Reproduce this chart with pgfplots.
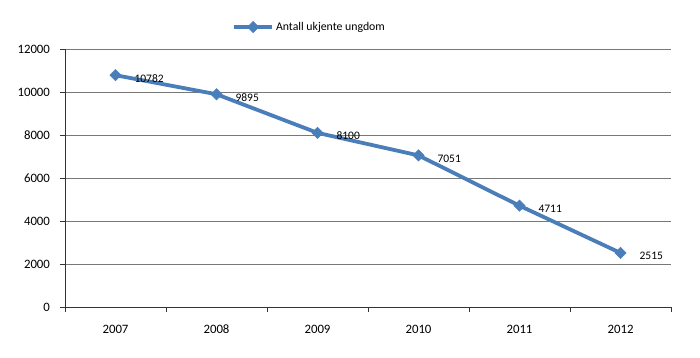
\documentclass[border=0pt]{standalone}
\usepackage{pgfplots}
\pgfplotsset{compat=1.18}
\usepackage{fontspec}
\setmainfont{Carlito}
\definecolor{lineblue}{RGB}{74,126,187}
\definecolor{gridgray}{RGB}{120,120,120}
\begin{document}
\fontsize{11.5pt}{13pt}\selectfont
\begin{tikzpicture}
\useasboundingbox (-65pt,-50pt) rectangle (635pt,307pt);
\begin{axis}[
  at={(0,0)}, anchor=south west,
  scale only axis, width=606pt, height=258pt,
  xmin=-0.5, xmax=5.5, ymin=0, ymax=12000,
  xtick={0,...,5},
  xticklabels={2007,2008,2009,2010,2011,2012},
  minor xtick={-0.5,0.5,...,5.5},
  ytick={0,2000,...,12000},
  axis x line*=bottom, axis y line*=left,
  axis line style={draw=black!80, line width=0.8pt},
  x tick style={draw=none},
  minor x tick style={draw=black!80, line width=0.8pt},
  minor tick length=5pt,
  y tick style={draw=black!80, line width=0.8pt},
  major tick length=5pt,
  tick align=outside,
  ymajorgrids, grid style={draw=gridgray, line width=0.8pt},
  yticklabel style={xshift=-6pt},
  xticklabel style={yshift=-9pt},
  /pgf/number format/assume math mode=true,
  scaled y ticks=false,
  y tick label style={/pgf/number format/.cd, set thousands separator={}, fixed},
  tick label style={font=\fontsize{12.8pt}{14pt}\selectfont},
  legend style={at={(0.2756,1.085)}, anchor=west, draw=none, fill=none,
    font=\fontsize{11.8pt}{13pt}\selectfont, inner sep=0pt,
    /tikz/every even column/.append style={column sep=0pt}},
  legend image code/.code={\draw[mark repeat=2,mark phase=2] plot coordinates {(0pt,0pt) (19pt,0pt) (38pt,0pt)};},
  nodes near coords,
  nodes near coords style={anchor=west, xshift=15pt, yshift=-3pt, text=black,
    font=\fontsize{11.5pt}{13pt}\selectfont,
    /pgf/number format/.cd, set thousands separator={}, fixed, assume math mode=true},
  clip=false,
]
\addplot[lineblue, line width=3.8pt, mark=square*, mark size=4pt,
  mark options={rotate=45, line width=0.5pt, fill=lineblue}]
  coordinates {(0,10782) (1,9895) (2,8100) (3,7051) (4,4711) (5,2515)};
\addlegendentry{Antall ukjente ungdom}
\end{axis}
\end{tikzpicture}
\end{document}
